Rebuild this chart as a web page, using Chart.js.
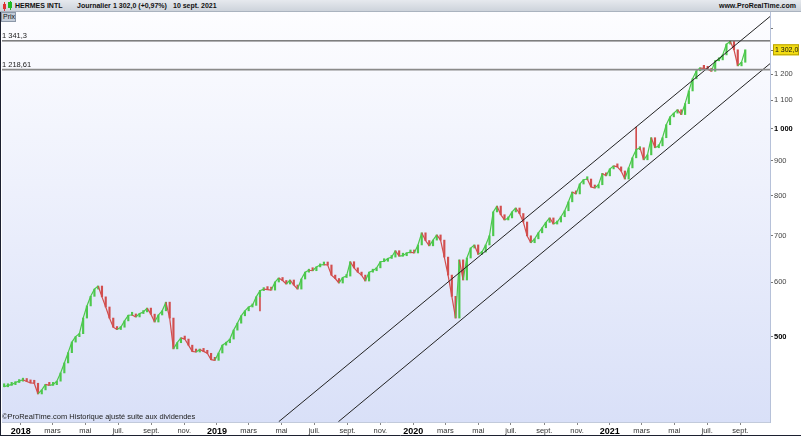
<!DOCTYPE html>
<html>
<head>
<meta charset="utf-8">
<script src="https://cdn.jsdelivr.net/npm/chart.js@4.4.0/dist/chart.umd.min.js"></script>
<style>
  html, body { margin: 0; padding: 0; background: #fff; }
  #wrap { position: relative; width: 801px; height: 436px; overflow: hidden; font-family: 'Liberation Sans', Arial, sans-serif; }
  #head { position: absolute; left: 0; top: 0; width: 801px; height: 12px; background: linear-gradient(#e6e9ee, #cdd3db); border-bottom: 1px solid #aab3bf; box-sizing: border-box; }
  #head span { position: absolute; top: 1px; font-size: 7px; font-weight: bold; color: #111; white-space: nowrap; line-height: 10px; }
  #head i { position: absolute; display: block; }
  #prix { position: absolute; left: 1px; top: 12px; width: 15px; height: 10px; background: #c4cdd9; border: 1px solid #8c98a8; box-sizing: border-box; font-size: 7px; line-height: 8px; padding-left: 1px; color: #111; }
  #cv { position: absolute; left: 0; top: 12px; }
</style>
</head>
<body>
<div id="wrap">
  <div id="head">
    <i style="left:3px;top:4px;width:3px;height:5px;background:#d33;"></i>
    <i style="left:4px;top:2px;width:1px;height:9px;background:#d33;"></i>
    <i style="left:8px;top:2px;width:4px;height:6px;background:#2b2;"></i>
    <i style="left:9.5px;top:1px;width:1px;height:9px;background:#2b2;"></i>
    <span style="left:15px">HERMES INTL</span>
    <span style="left:77px">Journalier</span>
    <span style="left:113px">1 302,0 (+0,97%)</span>
    <span style="left:173px">10 sept. 2021</span>
    <span style="right:5px">www.ProRealTime.com</span>
  </div>
  <canvas id="cv" width="801" height="424"></canvas>
  <div id="prix">Prix</div>
</div>
<script>
// Weekly closes (Fridays), first week ending 2017-12-01, last 2021-09-10
const firstWeek = '2017-12-01';
const weeklyClose = [
  423, 425, 426, 429, 431, 433, 430.5, 428.5, 428, 413,
  418.6, 426.5, 425, 426, 431, 443, 458, 474, 491, 500,
  505, 532, 554, 572, 586, 592, 571, 552, 532, 516,
  512, 516, 527, 537, 537.5, 534, 540, 543, 550, 539,
  525, 537.5, 545, 561, 532, 480, 490, 498, 496, 486,
  476, 475, 479, 476, 473, 463, 462, 473.5, 486, 490,
  496, 511, 523, 536, 545, 552, 555, 571, 583, 586,
  585, 584, 600, 608, 603, 596, 604, 594, 586, 606,
  620, 624, 623, 631, 635, 636, 635, 614, 607, 598,
  609, 612, 642, 629, 620, 614, 602, 620, 623, 629,
  642, 643, 649, 652, 666, 654, 655, 661, 663, 661,
  679, 707, 689, 677, 690, 702, 690, 652, 614, 572,
  532, 646, 604, 650, 672, 679, 658, 663, 679, 700,
  758, 773, 751, 738, 743, 758, 768, 754, 733, 700,
  684, 693, 707, 719, 732, 743, 728, 733, 746, 761,
  784, 810, 805, 832, 844, 846, 824, 821, 830, 862,
  855, 875, 884, 881, 869, 846, 878, 908, 933, 939,
  902, 917, 971, 939, 945, 971, 1014, 1041, 1054, 1066,
  1049, 1088, 1135, 1182, 1214, 1225, 1224, 1220, 1212, 1255,
  1259, 1280, 1327, 1338, 1302, 1234, 1249, 1302
];
const lastPrice = 1302.0;

// isolated long daily wicks visible on the chart: [date, low, high]
const wicks = [
  ['2019-03-22', 545, 583],
  ['2021-02-19', 932, 1006]
];

// horizontal levels and trend channel
const levelHigh = 1341.3;
const levelLow = 1218.61;
const channelUpper = [['2019-04-26', 376.5], ['2021-10-27', 1457]];
const channelLower = [['2019-08-15', 376.5], ['2021-10-27', 1245]];

// axes
const xRange = ['2017-11-27', '2021-10-26'];
const yRange = [376.1, 1477];
const xTickDates = [
  '2018-01-01', '2018-03-01', '2018-05-01', '2018-07-01', '2018-09-01', '2018-11-01',
  '2019-01-01', '2019-03-01', '2019-05-01', '2019-07-01', '2019-09-01', '2019-11-01',
  '2020-01-01', '2020-03-01', '2020-05-01', '2020-07-01', '2020-09-01', '2020-11-01',
  '2021-01-01', '2021-03-01', '2021-05-01', '2021-07-01', '2021-09-01'
];
const xTickLabels = [
  '2018', 'mars', 'mai', 'juil.', 'sept.', 'nov.',
  '2019', 'mars', 'mai', 'juil.', 'sept.', 'nov.',
  '2020', 'mars', 'mai', 'juil.', 'sept.', 'nov.',
  '2021', 'mars', 'mai', 'juil.', 'sept.'
];
const yTicks = [500, 600, 700, 800, 900, 1000, 1100, 1200, 1300, 1400];
const yTickLabels = ['500', '600', '700', '800', '900', '1 000', '1 100', '1 200', '', ''];

const UP = '#4cc84c', DOWN = '#d24e4e';

const t0 = Date.UTC(2018, 0, 1);
function dayOf(s) {
  const p = s.split('-');
  return (Date.UTC(+p[0], +p[1] - 1, +p[2]) - t0) / 86400000;
}

const start = dayOf(firstWeek);
const bars = weeklyClose.map(function(c, i) {
  const open = i > 0 ? weeklyClose[i - 1] : c;
  return { x: start + 7 * i, y: [open, c] };
});
const closePts = weeklyClose.map((c, i) => ({ x: start + 7 * i, y: c }));
const barColors = weeklyClose.map(function(c, i) {
  const open = i > 0 ? weeklyClose[i - 1] : c;
  return c >= open ? UP : DOWN;
});
const wickBars = wicks.map(w => ({ x: dayOf(w[0]), y: [w[1], w[2]] }));
const toPts = arr => arr.map(p => ({ x: dayOf(p[0]), y: p[1] }));
const xMin = dayOf(xRange[0]), xMax = dayOf(xRange[1]);

const decor = {
  id: 'decor',
  beforeDraw(chart) {
    const c = chart.ctx, a = chart.chartArea;
    c.save();
    c.fillStyle = '#fff';
    c.fillRect(0, 0, chart.width, chart.height);
    const g = c.createLinearGradient(0, a.top, 0, a.bottom);
    g.addColorStop(0, '#fdfdff');
    g.addColorStop(1, '#d9e0f8');
    c.fillStyle = g;
    c.fillRect(a.left, a.top, a.right - a.left, a.bottom - a.top);
    c.restore();
  },
  afterDraw(chart) {
    const c = chart.ctx, a = chart.chartArea, y = chart.scales.y;
    c.save();
    c.font = '7.5px "Liberation Sans", Arial, sans-serif';
    c.fillStyle = '#222';
    c.textBaseline = 'bottom';
    c.fillText('1 341,3', 2, y.getPixelForValue(levelHigh) - 1);
    c.fillText('1 218,61', 2, y.getPixelForValue(levelLow) - 1);
    c.textBaseline = 'middle';
    c.fillText('\u00A9ProRealTime.com Historique ajust\u00E9 suite aux dividendes', 2, a.bottom - 5);

    // last price marker
    const py = y.getPixelForValue(lastPrice);
    c.fillStyle = '#f2dc14';
    c.fillRect(a.right + 3, py - 5.5, 26, 11);
    c.strokeStyle = '#b8a200';
    c.lineWidth = 1;
    c.strokeRect(a.right + 3.5, py - 5, 25, 10);
    c.fillStyle = '#111';
    c.font = '7px "Liberation Sans", Arial, sans-serif';
    c.fillText('1 302,0', a.right + 5, py + 0.5);

    // frame
    c.strokeStyle = '#1c2030';
    c.beginPath();
    c.moveTo(0.5, 0);
    c.lineTo(0.5, chart.height);
    c.moveTo(0, chart.height - 0.5);
    c.lineTo(chart.width, chart.height - 0.5);
    c.stroke();
    c.restore();
  }
};

new Chart(document.getElementById('cv'), {
  type: 'bar',
  data: {
    datasets: [
      { type: 'line', data: [{ x: xMin - 10, y: levelHigh }, { x: xMax + 10, y: levelHigh }], borderColor: '#333', borderWidth: 1, pointRadius: 0 },
      { type: 'line', data: [{ x: xMin - 10, y: levelLow }, { x: xMax + 10, y: levelLow }], borderColor: '#8a8a8a', borderWidth: 1.6, pointRadius: 0 },
      { type: 'line', data: toPts(channelUpper), borderColor: '#222', borderWidth: 1, pointRadius: 0 },
      { type: 'line', data: toPts(channelLower), borderColor: '#222', borderWidth: 1, pointRadius: 0 },
      {
        type: 'line', data: closePts, borderWidth: 1.2, pointRadius: 0, borderColor: UP,
        segment: { borderColor: ctx => ctx.p1.parsed.y >= ctx.p0.parsed.y ? UP : DOWN }
      },
      { type: 'bar', data: bars, backgroundColor: barColors, barThickness: 1.5, minBarLength: 3, grouped: false },
      { type: 'bar', data: wickBars, backgroundColor: DOWN, barThickness: 1, grouped: false }
    ]
  },
  options: {
    responsive: false,
    devicePixelRatio: 1,
    animation: false,
    events: [],
    layout: { padding: { left: 2, top: 0, right: 0, bottom: 0 } },
    plugins: { legend: { display: false }, tooltip: { enabled: false } },
    scales: {
      x: {
        type: 'linear',
        min: xMin,
        max: xMax,
        offset: false,
        border: { display: true, color: '#c2cadb' },
        grid: { display: true, drawOnChartArea: false, drawTicks: true, tickLength: 3, tickColor: '#888', offset: false },
        ticks: {
          autoSkip: false,
          maxRotation: 0,
          padding: 1,
          color: function(ctx) { return /^\d{4}$/.test(xTickLabels[ctx.index]) ? '#000' : '#333'; },
          font: function(ctx) {
            const yr = /^\d{4}$/.test(xTickLabels[ctx.index]);
            return { family: '"Liberation Sans", Arial, sans-serif', size: yr ? 9 : 7.5, weight: yr ? 'bold' : 'normal' };
          },
          callback: function(v, i) { return xTickLabels[i]; }
        },
        afterBuildTicks: function(s) { s.ticks = xTickDates.map(d => ({ value: dayOf(d) })); },
        afterFit: function(s) { s.height = 14; s.paddingLeft = 0; s.paddingRight = 0; }
      },
      y: {
        type: 'logarithmic',
        position: 'right',
        min: yRange[0],
        max: yRange[1],
        border: { display: true, color: '#b6c1d9' },
        grid: { display: true, drawOnChartArea: false, drawTicks: true, tickLength: 3, tickColor: '#777' },
        ticks: {
          padding: 1,
          color: function(ctx) { return (ctx.tick.value === 1000 || ctx.tick.value === 500) ? '#000' : '#444'; },
          font: function(ctx) {
            const b = ctx.tick && (ctx.tick.value === 1000 || ctx.tick.value === 500);
            return { family: '"Liberation Sans", Arial, sans-serif', size: 7.5, weight: b ? 'bold' : 'normal' };
          },
          callback: function(v, i) { return yTickLabels[i]; }
        },
        afterBuildTicks: function(s) { s.ticks = yTicks.map(v => ({ value: v })); },
        afterFit: function(s) { s.width = 31; s.paddingTop = 0; s.paddingBottom = 0; }
      }
    }
  },
  plugins: [decor]
});
</script>
</body>
</html>
